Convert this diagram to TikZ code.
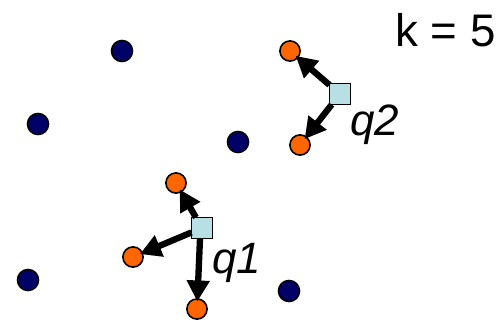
\documentclass[tikz,border=0pt]{standalone}
\usepackage{fontspec}
\setmainfont{Liberation Sans}
\usetikzlibrary{arrows.meta}
\definecolor{navydot}{HTML}{000066}
\definecolor{nearorange}{HTML}{FF6600}
\definecolor{queryblue}{HTML}{B8DFE3}
\tikzset{
  datapt/.style={circle, draw=black, line width=0.9pt, fill=navydot,
    minimum size=12pt, inner sep=0pt, outer sep=0pt},
  nearpt/.style={circle, draw=black, line width=0.9pt, fill=nearorange,
    minimum size=11.5pt, inner sep=0pt, outer sep=0pt},
  querypt/.style={rectangle, draw=black, line width=0.6pt, fill=queryblue,
    minimum size=12pt, inner sep=0pt, outer sep=0pt},
  nnarrow/.style={line width=3.6pt, shorten >=-1.5pt,
    -{Triangle[length=12pt,width=12.5pt]}},
  qlabel/.style={font=\fontsize{25pt}{30pt}\selectfont\itshape,
    inner sep=0pt, anchor=base west}
}
\begin{document}
\begin{tikzpicture}[x=0.02cm,y=-0.02cm]
\useasboundingbox (0,0) rectangle (500,321);

% remaining data points
\node[datapt] (d1) at (122,51) {};
\node[datapt] (d2) at (38,124) {};
\node[datapt] (d3) at (238,142) {};
\node[datapt] (d4) at (28,280) {};
\node[datapt] (d5) at (289,291) {};

% neighbours of q1
\node[nearpt] (a1) at (176,183) {};
\node[nearpt] (a2) at (133,257) {};
\node[nearpt] (a3) at (197,309) {};
% neighbours of q2
\node[nearpt] (b1) at (290,51) {};
\node[nearpt] (b2) at (300,145) {};

% query points
\node[querypt] (q1) at (202,228) {};
\node[querypt] (q2) at (340,94) {};

% nearest-neighbour arrows
\coordinate (q1s) at ([xshift=-0.04cm]q1.south);
\draw[nnarrow] (q1) -- (a1);
\draw[nnarrow] (q1) -- (a2);
\draw[nnarrow] (q1s) -- (a3);
\draw[nnarrow] (q2) -- (b1);
\draw[nnarrow] (q2) -- (b2);

% labels
\node[qlabel] (l1) at (212,273) {q1};
\node[qlabel] (l2) at (350,135) {q2};
\node[font=\fontsize{26pt}{31pt}\selectfont, inner sep=0pt, anchor=base east]
  (kl) at (496,46) {k = 5};
\end{tikzpicture}
\end{document}
